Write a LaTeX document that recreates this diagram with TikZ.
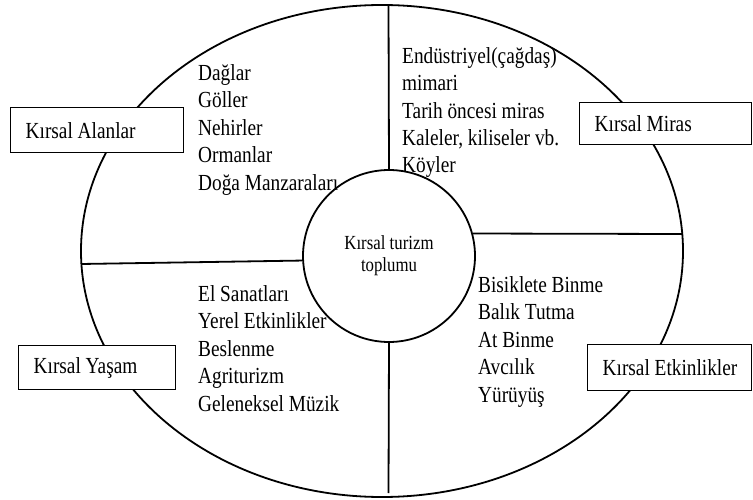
\documentclass[tikz,border=0pt]{standalone}
\usepackage{fontspec}
\setmainfont{Liberation Serif}[FakeStretch=0.84]

\tikzset{
  kutu/.style={draw, fill=white, line width=1.4pt, anchor=north west, inner xsep=15pt, inner ysep=0pt, font=\fontsize{23}{27.5}\selectfont},
  liste/.style={anchor=base west, inner sep=0pt, align=left, font=\fontsize{23}{27.5}\selectfont},
  cizgi/.style={line width=1.8pt},
}

\begin{document}
\begin{tikzpicture}[x=1pt,y=-1pt]
			\useasboundingbox (0,0) rectangle (753,500);

			% Outer ellipse
			\draw[cizgi] (382,251) ellipse [x radius=301, y radius=246];

			% Centre
			\node[draw, circle, cizgi, minimum size=172pt, inner sep=0pt, align=center, font=\fontsize{20}{22}\selectfont] (merkez) at (389,256) {Kırsal turizm\\toplumu};

			% Ends on the ellipse
			\coordinate (ust) at (388.5,6);
			\coordinate (alt) at (388.5,493);
			\coordinate (sol) at (81,264);
			\coordinate (sag) at (682,234);

			% Dividers
			\draw[cizgi] (merkez.north) -- (ust);
			\draw[cizgi] (merkez.south) -- (alt);
			\draw[cizgi] (merkez.183) -- (sol);
			\draw[cizgi] (merkez.15) -- (sag);

			% Lists (anchored at the last line)
			\node[liste] (doga) at (198,190) {Dağlar\\Göller\\Nehirler\\Ormanlar\\Doğa Manzaraları};
			\node[liste] (miras) at (402,173) {Endüstriyel(çağdaş)\\mimari\\Tarih öncesi miras\\Kaleler, kiliseler vb.\\Köyler};
			\node[liste] (yasam) at (198,411) {El Sanatları\\Yerel Etkinlikler\\Beslenme\\Agriturizm\\Geleneksel Müzik};
			\node[liste] (etkinlik) at (478,402) {Bisiklete Binme\\Balık Tutma\\At Binme\\Avcılık\\Yürüyüş};

			% Boxes
			\node[kutu, minimum width=173pt, minimum height=45pt, text width=143pt] (alanlarkutu) at (10,107) {\spaceskip=4.8pt\relax\noindent\mbox{Kırsal Alanlar}};
			\node[kutu, minimum width=172pt, minimum height=42pt, text width=142pt] (miraskutu) at (579,102) {\spaceskip=4.8pt\relax\noindent\mbox{Kırsal Miras}};
			\node[kutu, minimum width=157pt, minimum height=44pt, text width=127pt] (yasamkutu) at (18,345) {\spaceskip=4.8pt\relax\noindent\mbox{Kırsal Yaşam}};
			\node[kutu, minimum width=164pt, minimum height=46pt, text width=134pt] (etkinlikkutu) at (587,344) {\spaceskip=4.8pt\relax\noindent\mbox{Kırsal Etkinlikler}};
		\end{tikzpicture}
\end{document}
